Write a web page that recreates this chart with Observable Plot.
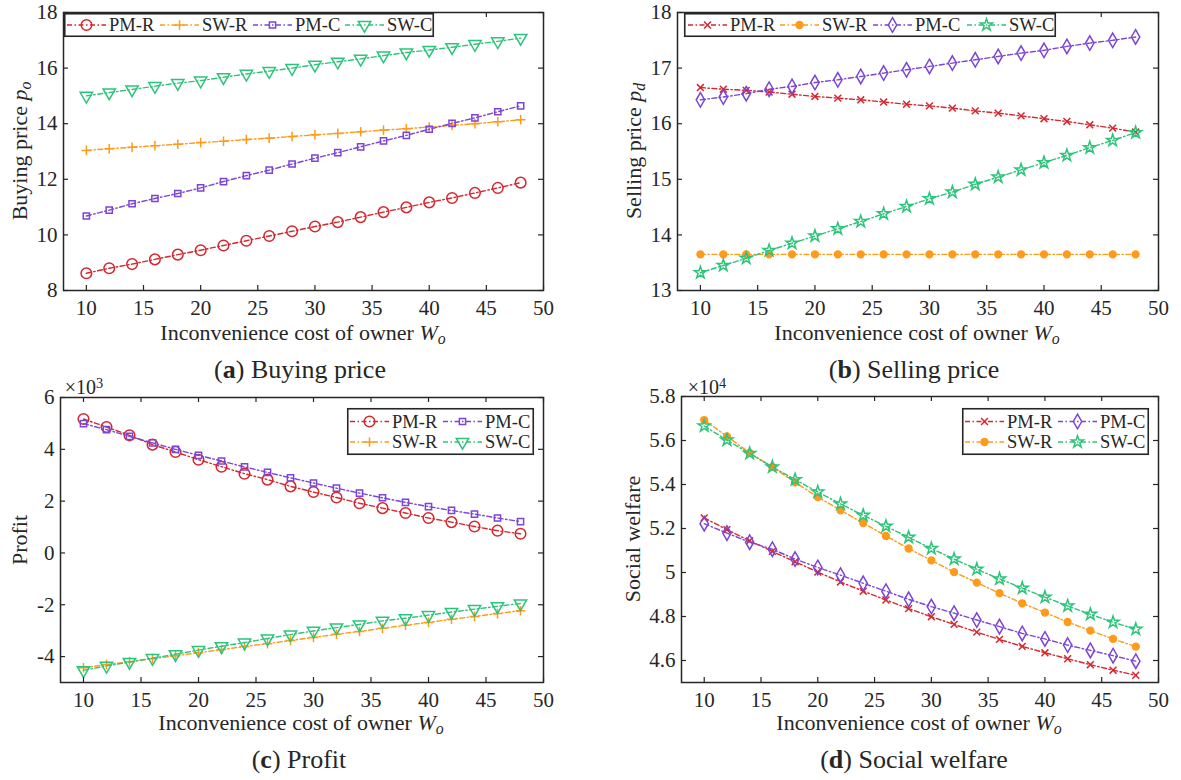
<!DOCTYPE html>
<html>
<head>
<meta charset="utf-8">
<script src="https://cdn.jsdelivr.net/npm/d3@7"></script>
<script src="https://cdn.jsdelivr.net/npm/@observablehq/plot@0.6"></script>
<style>
  html, body { margin: 0; padding: 0; background: #fff; }
  #wrap { position: relative; width: 1181px; height: 780px; background: #fff; overflow: hidden;
          font-family: "Liberation Serif", serif; color: #262626; }
  .abs { position: absolute; }
  .lbl { position: absolute; white-space: nowrap; line-height: 1; transform: translate(-50%, -50%); }
  .ylbl { position: absolute; white-space: nowrap; line-height: 1; transform: translate(-50%, -50%) rotate(-90deg); }
  .sub { font-size: 0.72em; font-style: italic; position: relative; top: 0.28em; }
  .sup { font-size: 0.72em; position: relative; top: -0.45em; }
</style>
</head>
<body>
<div id="wrap"></div>
<script>
// ---------------- data ----------------
const W = [10, 12, 14, 16, 18, 20, 22, 24, 26, 28, 30, 32, 34, 36, 38, 40, 42, 44, 46, 48];
const seriesNames = ["PM-R", "SW-R", "PM-C", "SW-C"];
const xTicks = [10, 15, 20, 25, 30, 35, 40, 45, 50];

// (a) Buying price p_o
const buyPMR = [8.62, 8.80, 8.95, 9.12, 9.29, 9.45, 9.62, 9.79, 9.96, 10.13, 10.30, 10.46, 10.64, 10.82, 10.99, 11.17, 11.33, 11.51, 11.69, 11.88];
const buySWR = [13.04, 13.10, 13.15, 13.21, 13.26, 13.32, 13.37, 13.43, 13.48, 13.54, 13.60, 13.65, 13.71, 13.77, 13.82, 13.88, 13.94, 14.00, 14.07, 14.14];
const buyPMC = [10.68, 10.89, 11.12, 11.31, 11.49, 11.69, 11.92, 12.13, 12.33, 12.55, 12.76, 12.96, 13.17, 13.38, 13.58, 13.80, 14.01, 14.21, 14.43, 14.64];
const buySWC = [15.00, 15.12, 15.23, 15.35, 15.46, 15.55, 15.67, 15.79, 15.89, 16.00, 16.12, 16.23, 16.33, 16.45, 16.56, 16.65, 16.75, 16.86, 16.96, 17.08];
const buyTicks = [8, 10, 12, 14, 16, 18];

// (b) Selling price p_d
const sellPMR = [16.65, 16.62, 16.60, 16.57, 16.53, 16.49, 16.46, 16.43, 16.39, 16.35, 16.32, 16.28, 16.23, 16.19, 16.14, 16.09, 16.04, 15.98, 15.92, 15.85];
const sellSWR = [13.65, 13.65, 13.65, 13.65, 13.65, 13.65, 13.65, 13.65, 13.65, 13.65, 13.65, 13.65, 13.65, 13.65, 13.65, 13.65, 13.65, 13.65, 13.65, 13.65];
const sellPMC = [16.43, 16.48, 16.54, 16.62, 16.67, 16.74, 16.79, 16.85, 16.91, 16.97, 17.03, 17.09, 17.15, 17.21, 17.27, 17.32, 17.39, 17.45, 17.50, 17.56];
const sellSWC = [13.32, 13.45, 13.58, 13.72, 13.85, 13.98, 14.11, 14.24, 14.38, 14.51, 14.65, 14.77, 14.91, 15.04, 15.17, 15.30, 15.43, 15.57, 15.70, 15.84];
const sellTicks = [13, 14, 15, 16, 17, 18];

// (c) Profit
const profPMR = [5170, 4860, 4540, 4180, 3900, 3600, 3330, 3060, 2830, 2570, 2350, 2140, 1920, 1730, 1540, 1350, 1190, 1020, 860, 740];
const profSWR = [-4430, -4310, -4200, -4080, -3970, -3850, -3730, -3610, -3500, -3380, -3260, -3140, -3030, -2910, -2790, -2680, -2560, -2450, -2340, -2230];
const profPMC = [4990, 4760, 4500, 4250, 4000, 3770, 3550, 3320, 3110, 2900, 2700, 2500, 2310, 2130, 1950, 1790, 1640, 1500, 1350, 1210];
const profSWC = [-4530, -4360, -4210, -4060, -3910, -3750, -3600, -3460, -3300, -3150, -3010, -2880, -2760, -2620, -2520, -2400, -2280, -2170, -2060, -1950];
const profTicks = [-4000, -2000, 0, 2000, 4000, 6000];

// (d) Social welfare
const swPMR = [52480, 51950, 51440, 50960, 50490, 50020, 49570, 49150, 48750, 48360, 47990, 47640, 47290, 46960, 46640, 46350, 46080, 45810, 45560, 45330];
const swSWR = [56930, 56190, 55440, 54800, 54100, 53430, 52830, 52250, 51660, 51090, 50550, 50020, 49540, 49060, 48600, 48180, 47750, 47360, 46980, 46630];
const swPMC = [52220, 51790, 51380, 51060, 50610, 50230, 49880, 49510, 49150, 48780, 48450, 48150, 47840, 47540, 47230, 46980, 46700, 46460, 46220, 45970];
const swSWC = [56660, 56020, 55410, 54800, 54220, 53660, 53120, 52600, 52100, 51600, 51090, 50610, 50150, 49710, 49290, 48880, 48480, 48100, 47740, 47420];
const swTicks = [46000, 48000, 50000, 52000, 54000, 56000, 58000];

// ---------------- styles ----------------
const FONT = '"Liberation Serif", serif';
const INK = "#262626";
const colors = {"PM-R": "#d6262e", "SW-R": "#ff9a1a", "PM-C": "#7b45d6", "SW-C": "#2cc47a"};
const DASH = "5,2.5,1.5,2.5";

const triDown = {
  draw(ctx, size) {
    const y = -Math.sqrt(size / (Math.sqrt(3) * 3));
    ctx.moveTo(0, -y * 2);
    ctx.lineTo(-Math.sqrt(3) * y, y);
    ctx.lineTo(Math.sqrt(3) * y, y);
    ctx.closePath();
  }
};
const d3sym = {circle: d3.symbolCircle, plus: d3.symbolPlus, square: d3.symbolSquare, times: d3.symbolTimes,
               diamond: d3.symbolDiamond, star: d3.symbolStar, tri: triDown};

const markersA = {
  "PM-R": {symbol: "circle", r: 5.3, fill: "none"},
  "SW-R": {symbol: "plus", r: 3.2, fill: "none"},
  "PM-C": {symbol: "square", r: 3.5, fill: "none"},
  "SW-C": {symbol: "tri", r: 4.6, fill: "none"}
};
const markersB = {
  "PM-R": {symbol: "times", r: 3.2, fill: "none"},
  "SW-R": {symbol: "circle", r: 3.4, fill: "fill"},
  "PM-C": {symbol: "diamond", r: 4.4, fill: "none"},
  "SW-C": {symbol: "star", r: 3.8, fill: "none"}
};

const wrap = document.getElementById("wrap");

function rows(valuesByName) {
  const out = [];
  for (const name of seriesNames) {
    valuesByName[name].forEach((v, i) => out.push({name, w: W[i], v}));
  }
  return out;
}

function panel(cfg) {
  const {left, top, width, height, mL, mR, mT, mB, yDomain, yTicks, yFormat, values, markers} = cfg;
  const fw = width - mL - mR, fh = height - mT - mB;
  const data = rows(values);
  const marks = [];
  for (const name of seriesNames) {
    const sub = data.filter(d => d.name === name);
    const m = markers[name];
    marks.push(Plot.line(sub, {x: "w", y: "v", stroke: colors[name], strokeWidth: 1.4, strokeDasharray: DASH}));
    marks.push(Plot.dot(sub, {x: "w", y: "v", r: m.r,
      symbol: m.symbol === "tri" ? triDown : m.symbol,
      stroke: colors[name], strokeWidth: 1.5,
      fill: m.fill === "fill" ? colors[name] : "white", fillOpacity: m.fill === "fill" ? 1 : 0}));
  }
  marks.push(
    Plot.tickX(xTicks, {x: d => d, insetTop: fh - 5, stroke: INK, strokeWidth: 1.2}),
    Plot.tickX(xTicks, {x: d => d, insetBottom: fh - 5, stroke: INK, strokeWidth: 1.2}),
    Plot.tickY(yTicks, {y: d => d, insetRight: fw - 5, stroke: INK, strokeWidth: 1.2}),
    Plot.tickY(yTicks, {y: d => d, insetLeft: fw - 5, stroke: INK, strokeWidth: 1.2}),
    Plot.axisX({ticks: xTicks, tickSize: 0, tickPadding: 10, label: null, tickFormat: d => String(d)}),
    Plot.axisY({ticks: yTicks, tickSize: 0, tickPadding: 6, label: null, tickFormat: yFormat}),
    Plot.frame({stroke: INK, strokeWidth: 1.5})
  );
  const svg = Plot.plot({
    width, height, marginLeft: mL, marginRight: mR, marginTop: mT, marginBottom: mB,
    x: {domain: [8, 50]},
    y: {domain: yDomain},
    style: {fontFamily: FONT, fontSize: "21px", color: INK, background: "transparent", overflow: "visible"},
    marks
  });
  const div = document.createElement("div");
  div.className = "abs";
  div.style.left = left + "px";
  div.style.top = top + "px";
  div.appendChild(svg);
  wrap.appendChild(div);
}

function addText(html, cx, cy, size, cls = "lbl") {
  const d = document.createElement("div");
  d.className = cls;
  d.style.left = cx + "px";
  d.style.top = cy + "px";
  d.style.fontSize = size + "px";
  d.innerHTML = html;
  wrap.appendChild(d);
}

// legend: entries laid out in grid; each entry {name, col, row}
function legend(left, top, w, h, cols, rowYs, entries, markers) {
  const svg = d3.create("svg").attr("width", w).attr("height", h)
    .style("position", "absolute").style("left", left + "px").style("top", top + "px")
    .style("overflow", "visible");
  svg.append("rect").attr("x", 0.75).attr("y", 0.75).attr("width", w - 1.5).attr("height", h - 1.5)
    .attr("fill", "white").attr("stroke", INK).attr("stroke-width", 1.6);
  for (const e of entries) {
    const x0 = cols[e.col], y0 = rowYs[e.row];
    const c = colors[e.name], m = markers[e.name];
    svg.append("line").attr("x1", x0).attr("x2", x0 + 39).attr("y1", y0).attr("y2", y0)
      .attr("stroke", c).attr("stroke-width", 1.4).attr("stroke-dasharray", DASH);
    svg.append("path").attr("transform", `translate(${x0 + 19.5},${y0})`)
      .attr("d", d3.symbol(d3sym[m.symbol], Math.PI * m.r * m.r)())
      .attr("stroke", c).attr("stroke-width", 1.5)
      .attr("fill", m.fill === "fill" ? c : "none");
    svg.append("text").attr("x", x0 + 42).attr("y", y0).attr("dy", "0.35em")
      .attr("font-family", FONT).attr("font-size", 18.5).attr("fill", INK).text(e.name);
  }
  wrap.appendChild(svg.node());
}

const valsA = {"PM-R": buyPMR, "SW-R": buySWR, "PM-C": buyPMC, "SW-C": buySWC};
const valsB = {"PM-R": sellPMR, "SW-R": sellSWR, "PM-C": sellPMC, "SW-C": sellSWC};
const valsC = {"PM-R": profPMR, "SW-R": profSWR, "PM-C": profPMC, "SW-C": profSWC};
const valsD = {"PM-R": swPMR, "SW-R": swSWR, "PM-C": swPMC, "SW-C": swSWC};

// frames: (a) x 63..543, y 12..290 ; (b) x 677..1158, y 12..290
//         (c) x 60..543, y 397..682 ; (d) x 681..1158, y 396..682
panel({left: 0, top: -10, width: 590, height: 360, mL: 63, mR: 47, mT: 22, mB: 60,
  yDomain: [8, 18], yTicks: buyTicks, yFormat: d => String(d), values: valsA, markers: markersA});
panel({left: 590, top: -10, width: 591, height: 360, mL: 87, mR: 23, mT: 22, mB: 60,
  yDomain: [13, 18], yTicks: sellTicks, yFormat: d => String(d), values: valsB, markers: markersB});
panel({left: 0, top: 375, width: 590, height: 365, mL: 60, mR: 47, mT: 22, mB: 58,
  yDomain: [-5000, 6000], yTicks: profTicks, yFormat: d => String(d / 1000), values: valsC, markers: markersA});
panel({left: 590, top: 375, width: 591, height: 365, mL: 91, mR: 23, mT: 21, mB: 58,
  yDomain: [45000, 58000], yTicks: swTicks, yFormat: d => String(+(d / 10000).toFixed(1)), values: valsD, markers: markersB});

// legends
const single = seriesNames.map((name, i) => ({name, col: i, row: 0}));
legend(64, 13, 370, 24, [3, 96, 189, 281], [12], single, markersA);
legend(684, 13, 372, 24, [4, 96, 189, 283], [12], single, markersB);
const grid = [{name: "PM-R", col: 0, row: 0}, {name: "PM-C", col: 1, row: 0},
              {name: "SW-R", col: 0, row: 1}, {name: "SW-C", col: 1, row: 1}];
legend(347, 408, 187, 47, [3, 96], [13.5, 34], grid, markersA);
legend(962, 408, 187, 47, [3, 96], [13.5, 34], grid, markersB);

// axis labels
const xl = 'Inconvenience cost of owner <i>W</i><span class="sub">o</span>';
addText(xl, 303, 333, 22);
addText(xl, 917, 333, 22);
addText(xl, 301, 723, 22);
addText(xl, 919, 723, 22);
addText('Buying price <i>p</i><span class="sub">o</span>', 20, 151, 22, "ylbl");
addText('Selling price <i>p</i><span class="sub">d</span>', 634, 151, 22, "ylbl");
addText('Profit', 20, 540, 22, "ylbl");
addText('Social welfare', 633, 539, 22, "ylbl");

// exponent labels
addText('×10<span class="sup">3</span>', 84, 387, 20);
addText('×10<span class="sup">4</span>', 707, 387, 20);

// sub-captions
addText('(<b>a</b>) Buying price', 300, 370, 26);
addText('(<b>b</b>) Selling price', 914, 370, 26);
addText('(<b>c</b>) Profit', 299, 760, 26);
addText('(<b>d</b>) Social welfare', 914, 760, 26);
</script>
</body>
</html>
